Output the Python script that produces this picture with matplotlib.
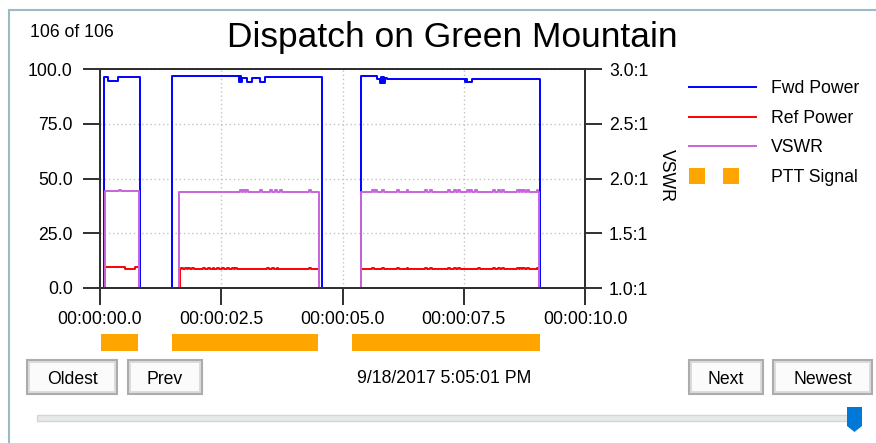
import matplotlib
matplotlib.use("Agg")
import matplotlib.pyplot as plt
from matplotlib.lines import Line2D
from matplotlib.patches import Rectangle, Polygon, Patch
from matplotlib.legend_handler import HandlerBase
from matplotlib.ticker import FuncFormatter

plt.rcParams['font.family'] = ['Liberation Sans', 'DejaVu Sans']

# ---- signal data (time in seconds) ----
fwd_t = [0.00, 0.08, 0.16, 0.37, 0.82, 1.48, 2.86, 2.88, 2.90, 2.92, 3.03, 3.13,
         3.30, 3.40, 4.58, 5.38, 5.71, 5.77, 5.79, 5.81, 5.83, 5.85, 5.87, 5.92,
         7.52, 7.55, 7.57, 7.66, 9.07, 10.0]
fwd_v = [0.0, 96.5, 94.5, 96.5, 0.0, 97.0, 94.0, 97.0, 94.0, 96.0, 94.0, 96.0,
         94.0, 96.2, 0.0, 97.0, 95.5, 93.5, 96.5, 93.5, 96.5, 93.5, 96.0, 95.5,
         94.0, 95.5, 94.0, 95.5, 0.0, 0.0]

ref_t = [0.00, 0.11, 0.52, 0.72, 0.80, 1.65, 4.52, 5.38, 9.05, 10.0]
ref_v = [0.0, 9.4, 8.6, 9.4, 0.0, 8.7, 0.0, 8.7, 0.0, 0.0]
ref_spikes = [1.68, 1.75, 1.81, 1.89, 2.12, 2.23, 2.32, 2.41, 2.51, 2.61, 2.72,
              2.78, 3.44, 3.54, 3.64, 4.31, 5.60, 5.81, 6.12, 6.32, 6.70, 6.80,
              7.18, 7.29, 7.39, 7.80, 8.11, 8.21, 8.28, 8.59, 8.66, 8.73, 8.80, 9.00]
ref_spike_level = 9.3

vswr_t = [0.00, 0.11, 0.80, 1.63, 4.52, 5.38, 9.05, 10.0]
vswr_v = [1.0, 1.89, 1.0, 1.88, 1.0, 1.88, 1.0, 1.0]
vswr_spikes = [0.39, 2.89, 2.95, 3.02, 3.30, 3.51, 3.61, 3.71, 4.31, 5.60, 5.67,
               5.81, 6.12, 6.32, 6.70, 6.80, 7.18, 7.29, 7.39, 7.56, 7.63, 7.73,
               8.11, 8.21, 8.28, 8.59, 8.66, 8.73, 8.80, 9.00]
vswr_spike_level = 1.892

ptt_start = [0.02, 1.48, 5.20]
ptt_end = [0.78, 4.49, 9.07]

x_ticks = [0.0, 2.5, 5.0, 7.5, 10.0]
power_ticks = [0.0, 25.0, 50.0, 75.0, 100.0]
vswr_ticks = [1.0, 1.5, 2.0, 2.5, 3.0]

record_label = "106 of 106"
timestamp = "9/18/2017 5:05:01 PM"
title = "Dispatch on Green Mountain"
buttons = ["Oldest", "Prev", "Next", "Newest"]


def with_spikes(ts, vs, spikes, peak, width=0.04):
    """Insert short glitches into a stepped series."""
    pts = list(zip(ts, vs))
    for s in spikes:
        level = vs[0]
        for t, v in zip(ts, vs):
            if t <= s:
                level = v
        pts.append((s, peak))
        pts.append((s + width, level))
    pts.sort(key=lambda p: p[0])
    return [p[0] for p in pts], [p[1] for p in pts]


W, H = 876, 443


def fx(x):
    return x / W


def fy(y):
    return 1 - y / H


FS = 12.7
DARK = '#303030'

fig = plt.figure(figsize=(W / 100, H / 100), dpi=100)
fig.patch.set_facecolor('white')

# window frame
fig.add_artist(Line2D([fx(8.5), fx(876)], [fy(9.5), fy(9.5)], color='#9dbac7', lw=1.5))
fig.add_artist(Line2D([fx(9), fx(9)], [fy(9.5), fy(443)], color='#9dbac7', lw=1.5))

ax = fig.add_axes([fx(100), fy(288), 485 / W, 219 / H])
ax2 = ax.twinx()

ax.set_xlim(0, 10)
ax.set_ylim(0, 100)
ax2.set_ylim(1.0, 3.0)

ax.set_xticks(x_ticks)
ax.set_yticks(power_ticks)
ax2.set_yticks(vswr_ticks)
ax.xaxis.set_major_formatter(FuncFormatter(lambda v, p: f"00:00:{v:04.1f}"))
ax.yaxis.set_major_formatter(FuncFormatter(lambda v, p: f"{v:.1f}"))
ax2.yaxis.set_major_formatter(FuncFormatter(lambda v, p: f"{v:.1f}:1"))

ax.grid(True, linestyle=(0, (1, 2)), color='#c4c4c4', lw=1.0)

for a in (ax, ax2):
    for sp in a.spines.values():
        sp.set_color(DARK)
        sp.set_linewidth(1.4)
ax.tick_params(axis='x', direction='out', length=12.2, width=1.4, color=DARK,
               labelsize=FS, pad=4)
ax.tick_params(axis='y', direction='out', length=12.2, width=1.4, color=DARK,
               labelsize=FS, pad=7.5)
ax2.tick_params(axis='y', direction='out', length=12.2, width=1.4, color=DARK,
                labelsize=FS, pad=5)

ax2.set_ylabel('VSWR', rotation=270, fontsize=FS, va='center', ha='center')
ax2.yaxis.set_label_coords(1.167, 0.516)

ref_x, ref_y = with_spikes(ref_t, ref_v, ref_spikes, ref_spike_level)
vswr_x, vswr_y = with_spikes(vswr_t, vswr_v, vswr_spikes, vswr_spike_level)

BLUE, RED, PURPLE, ORANGE = '#0000ff', '#ff0000', '#c864dc', '#ffa500'
ax.step(fwd_t, fwd_v, where='post', color=BLUE, lw=1.4)
ax.step(ref_x, ref_y, where='post', color=RED, lw=1.4)
ax2.step(vswr_x, vswr_y, where='post', color=PURPLE, lw=1.4)

# PTT signal strip below the time axis
axp = fig.add_axes([fx(100), fy(351), 485 / W, 17 / H])
axp.set_xlim(0, 10)
axp.set_ylim(0, 1)
axp.broken_barh([(s, e - s) for s, e in zip(ptt_start, ptt_end)], (0, 1),
                facecolor=ORANGE, edgecolor='none')
axp.axis('off')


class PairOfSquares(HandlerBase):
    def create_artists(self, legend, orig_handle, xdescent, ydescent, width,
                       height, fontsize, trans):
        side = 11.5
        gap = 24.5
        y0 = -ydescent + height / 2 - side / 2
        return [Rectangle((-xdescent + k * gap, y0), side, side,
                          facecolor=orig_handle.get_facecolor(),
                          edgecolor='none', transform=trans) for k in (0, 1)]


ptt_key = Patch(facecolor=ORANGE)
handles = [Line2D([], [], color=BLUE, lw=1.4),
           Line2D([], [], color=RED, lw=1.4),
           Line2D([], [], color=PURPLE, lw=1.4),
           ptt_key]
labels = ['Fwd Power', 'Ref Power', 'VSWR', 'PTT Signal']
fig.legend(handles, labels, loc='upper left', bbox_to_anchor=(fx(689), fy(80)),
           frameon=False, borderaxespad=0, borderpad=0, fontsize=FS,
           handlelength=67 / 17.6, handletextpad=0.85, labelspacing=0.72,
           handler_map={ptt_key: PairOfSquares()})

# header texts
fig.text(fx(452), fy(47), title, ha='center', va='baseline', fontsize=25.5,
         color='black')
fig.text(fx(30), fy(37), record_label, ha='left', va='baseline', fontsize=FS,
         color='black')
fig.text(fx(444), fy(383), timestamp, ha='center', va='baseline', fontsize=FS,
         color='black')

# navigation buttons
button_boxes = [(27, 117), (128, 202), (689, 763), (773, 872)]
for name, (x0, x1) in zip(buttons, button_boxes):
    y0, y1 = 360, 394
    fig.add_artist(Rectangle((fx(x0), fy(y1)), (x1 - x0) / W, (y1 - y0) / H,
                             facecolor='#dcdcdc', edgecolor='#acacac', lw=1.5))
    fig.add_artist(Rectangle((fx(x0 + 3), fy(y1 - 3)), (x1 - x0 - 6) / W,
                             (y1 - y0 - 6) / H, facecolor='#fbfbfb',
                             edgecolor='none'))
    fig.text(fx((x0 + x1) / 2), fy(383.5), name, ha='center', va='baseline',
             fontsize=FS, color='black')

# track bar
fig.add_artist(Rectangle((fx(37), fy(421)), (857 - 37) / W, 6 / H,
                         facecolor='#e7eaea', edgecolor='#d4d6d6', lw=1))
thumb = [(847, 407), (862, 407), (862, 426), (854.5, 432), (847, 426)]
fig.add_artist(Polygon([(fx(x), fy(y)) for x, y in thumb], closed=True,
                       facecolor='#0078d7', edgecolor='none'))

fig.savefig('out.png', dpi=100, facecolor='white')
